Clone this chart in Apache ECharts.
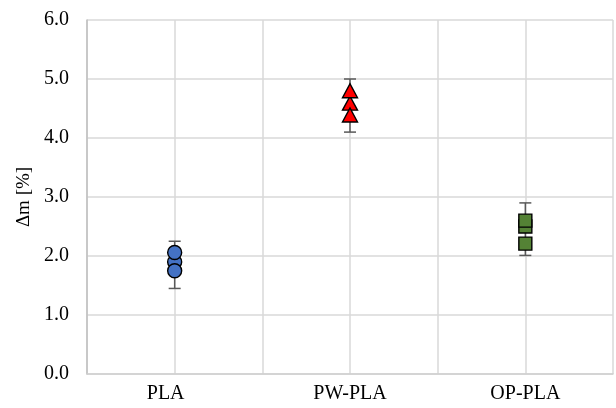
<!DOCTYPE html>
<html>
<head>
<meta charset="utf-8">
<script src="https://cdn.jsdelivr.net/npm/echarts@6/dist/echarts.min.js"></script>
<style>html,body{margin:0;padding:0;background:#fff}#c{width:616px;height:408px}</style>
</head>
<body>
<div id="c"></div>
<script>
var categories = ['PLA', 'PW-PLA', 'OP-PLA'];
var plaValues = [1.90, 2.06, 1.75];
var pwplaValues = [4.59, 4.80, 4.39];
var opplaValues = [2.50, 2.60, 2.21];
var errorLow = [1.45, 4.10, 2.01];
var errorHigh = [2.25, 5.00, 2.90];
var yTicks = [0, 1, 2, 3, 4, 5, 6];

function xPos(i) { return 2 * i + 1; }

var chart = echarts.init(document.getElementById('c'));
var font = '"Liberation Serif", "Times New Roman", serif';

function pts(i, vals) { return vals.map(function (v) { return [xPos(i), v]; }); }

var errData = categories.map(function (c, i) { return [xPos(i), errorLow[i], errorHigh[i]]; });

chart.setOption({
  animation: false,
  backgroundColor: '#fff',
  grid: { left: 87, right: 2, top: 20, bottom: 34, containLabel: false },
  xAxis: {
    type: 'value', min: 0, max: 6, interval: 1,
    axisLine: { show: true, lineStyle: { color: '#cfcfcf', width: 1.5 } },
    axisTick: { show: false },
    splitLine: { show: true, lineStyle: { color: '#d9d9d9', width: 1.5 } },
    axisLabel: {
      fontFamily: font, fontSize: 20, color: '#000', margin: 10,
      formatter: function (v) {
        for (var i = 0; i < categories.length; i++) {
          if (xPos(i) === v) return i === 0 ? '{s|' + categories[i] + '}' : categories[i];
        }
        return '';
      },
      rich: { s: { fontFamily: font, fontSize: 20, color: '#000', padding: [0, 18, 0, 0] } }
    }
  },
  yAxis: {
    type: 'value', min: 0, max: 6, interval: 1,
    name: 'Δm [%]', nameLocation: 'middle', nameGap: 50, nameRotate: 90,
    nameTextStyle: { fontFamily: font, fontSize: 19, color: '#000' },
    axisLine: { show: true, lineStyle: { color: '#bfbfbf', width: 1.5 } },
    axisTick: { show: false },
    splitLine: { show: true, lineStyle: { color: '#d9d9d9', width: 1.5 } },
    axisLabel: {
      fontFamily: font, fontSize: 20, color: '#000', margin: 18,
      formatter: function (v) { return yTicks.indexOf(v) >= 0 ? v.toFixed(1) : ''; }
    }
  },
  series: [
    {
      type: 'custom', z: 1,
      data: errData,
      renderItem: function (params, api) {
        var x = api.value(0);
        var lo = api.coord([x, api.value(1)]);
        var hi = api.coord([x, api.value(2)]);
        var hw = 6;
        var st = { stroke: '#595959', lineWidth: 1.5 };
        return {
          type: 'group',
          children: [
            { type: 'line', shape: { x1: lo[0], y1: lo[1], x2: hi[0], y2: hi[1] }, style: st },
            { type: 'line', shape: { x1: hi[0] - hw, y1: hi[1], x2: hi[0] + hw, y2: hi[1] }, style: st },
            { type: 'line', shape: { x1: lo[0] - hw, y1: lo[1], x2: lo[0] + hw, y2: lo[1] }, style: st }
          ]
        };
      }
    },
    {
      type: 'scatter', z: 3, data: pts(0, plaValues),
      symbol: 'circle', symbolSize: 14,
      itemStyle: { color: '#4472c4', borderColor: '#000', borderWidth: 1.4, opacity: 1 }
    },
    {
      type: 'scatter', z: 3, data: pts(1, pwplaValues),
      symbol: 'triangle', symbolSize: [15, 14],
      itemStyle: { color: '#ff0000', borderColor: '#000', borderWidth: 1.4, opacity: 1 }
    },
    {
      type: 'scatter', z: 3, data: pts(2, opplaValues),
      symbol: 'rect', symbolSize: 13,
      itemStyle: { color: '#548235', borderColor: '#000', borderWidth: 1.4, opacity: 1 }
    }
  ]
});
</script>
</body>
</html>
